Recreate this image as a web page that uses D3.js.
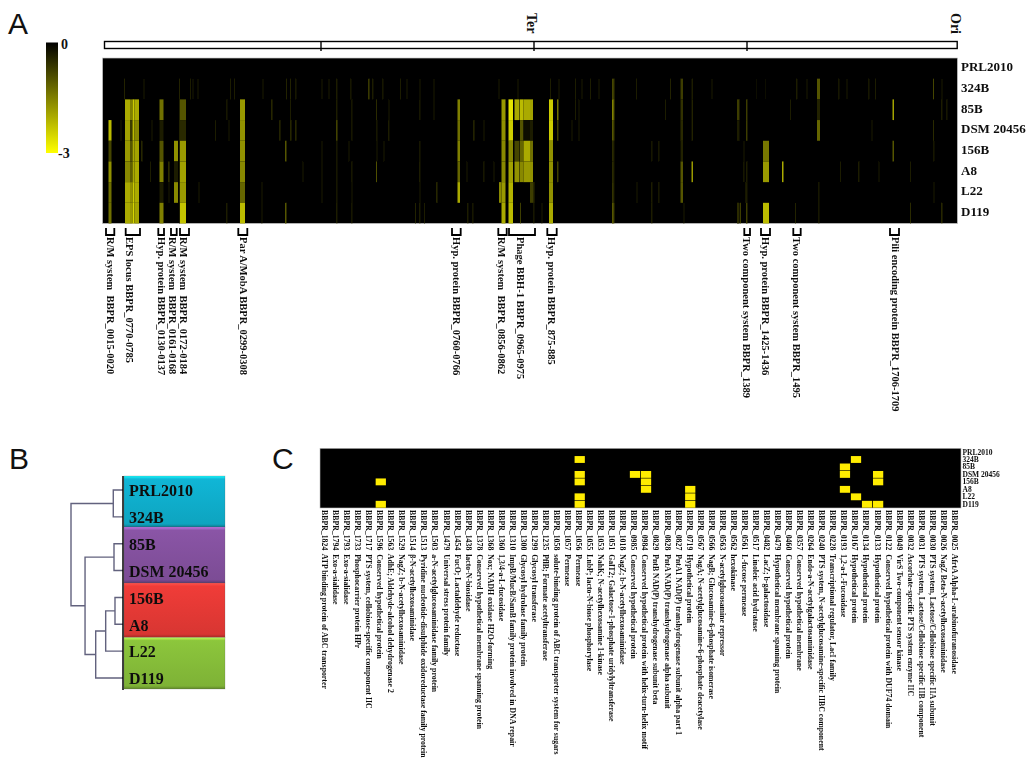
<!DOCTYPE HTML>
<html>
  <head>
    <meta charset="utf-8">
    <style>
     * { margin:0;padding:0 }
     body, html { width:1028px; height:758px; overflow:hidden; background-color:#fff; }
     svg { display:block; }
     text { font-family:"Liberation Serif", serif; white-space:pre; fill:#111; }
     .letter { font-family:"Liberation Sans", sans-serif; font-size:30px; }
     .bold { font-weight:bold; }
    </style>
    <script src="https://cdn.jsdelivr.net/npm/d3@7"></script>
  </head>
  <body>
    <script type="text/javascript">
    var width = 1028, height = 758;

    var strains = ["PRL2010", "324B", "85B", "DSM 20456", "156B", "A8", "L22", "D119"];

    // panel A, columns that show a clear signal: start bin, span in bins, log ratio per strain
    var strongTracks = [
      [6, 3, [0,0,0,-2.2,-0.8,-1.7,-1.3,-1.3]],
      [22.5, 5, [0,0,-2,-1.9,-1.8,-1.6,-2,-2]],
      [27.5, 2.5, [0,0,-1.5,-0.7,-1,-1.1,-1.7,-1.8]],
      [30, 2, [0,0,-2.4,-2.2,-2,-2,-2.4,-2.5]],
      [32, 4.5, [0,0,-2,-1.6,-1.9,-2,-2,-1.9]],
      [57, 4, [0,0,-1.3,-0.3,-1,-1.5,-0.3,-1.5]],
      [71.5, 4, [0,0,0,0,-1.7,-0.3,-1.6,0]],
      [77.5, 6, [0,0,-1,-0.5,-1.8,-1.9,-1.8,-2.3]],
      [137.5, 5, [0,0,-1.8,-1.7,-1.7,-1.6,-1.2,-2.2]],
      [182.5, 1.5, [0,0,0,0,-1,0,0,-1]],
      [355, 2.5, [0,0,-1.5,-1.3,-1.5,-1.2,-2,0]],
      [399, 4, [0,0,-1.8,-1.7,-1.6,-1.6,-1.8,-2]],
      [396.5, 2.5, [0,0,0,0,0,0,-1.6,0]],
      [406, 4.5, [0,0,-2.7,-2.4,-1.6,-1.9,-2.1,-2.2]],
      [412, 5, [0,0,-2,0,-0.8,-1.7,0,0]],
      [417.5, 3.5, [0,0,-2.2,-1,-1.2,-1.6,0,0]],
      [421, 6.5, [0,0,-2,-0.2,-2,-1.8,0,0]],
      [427.5, 3, [0,0,-1.9,-0.3,-1.3,-1.7,-0.7,0]],
      [446.5, 4, [0,0,-2.4,-2.4,-1.7,-1.7,-1.7,-2]],
      [454.5, 1.5, [0,0,-1.3,-0.7,0,-0.7,0,0]],
      [509.5, 1.5, [0,-0.8,-1.5,-1,-0.5,-0.5,-0.6,-1]],
      [578, 2.5, [0,-0.7,-0.6,-0.5,-0.4,-1,-1,0]],
      [589, 1.5, [0,-0.3,-0.4,-0.4,0,-1.8,0,0]],
      [634.5, 2.5, [0,0,-0.7,-0.3,0,0,0,-0.5]],
      [643.5, 1.5, [0,0,-0.7,-0.7,0,-0.3,-0.3,-0.7]],
      [660.5, 6, [0,0,0,0,-1.4,-1.8,0,-2.2]],
      [679.5, 1.5, [0,0,0,0,0,-2,0,0]],
      [714.5, 3, [0,-1,-0.4,-1.2,0,0,0,0]],
      [790, 1.5, [0,0,-1.9,0,-1,0,0,0]],
      [830.5, 1, [0,-0.8,0,-0.5,0,0,0,0]],
      [76.5, 0.8, [0,-0.5,-0.5,-0.5,-0.5,-0.5,-0.5,-0.4]]
    ];

    // thin faint genes per strain: bin, log ratio
    var faint324B = [[21.5,-.4],[41,-.3],[87.5,-.3],[90,-.3],[95,-.3],[127.5,-.3],[131.5,-.3],[160,-.3],[183.5,-.4],[187.5,-.4],[193,-.4],[219,-.3],[226,-.3],[234,-.5],[248,-.4],[266,-1],[270,-.5],[280,-.4],[297.5,-.3],[304,-.3],[317,-.3],[331,-.3],[396,-.3],[415,-.3],[447.5,-.3],[456,-.3],[472.5,-.3],[479,-.3],[487.5,-.3],[496,-.3],[511,-.9],[533.5,-.3],[567.5,-.4],[609,-.3],[654,-.2],[662.5,-.2],[694,-.5],[704,-.3],[736,-.4],[744,-.3],[766,-.4],[772.5,-.3],[839,-.3]];
    var faint85B = [[124,-.4],[169,-.7],[187.5,-.3],[234,-.5],[249,-.4],[273.5,-.5],[286,-.3],[317,-.4],[331,-.3],[472.5,-.3],[476,-.3],[511,-1.2],[562.5,-.3],[687.5,-.3],[839,-.5],[844,-.4]];
    var faintDSM = [[18,-.3],[49,-.3],[112.5,-.3],[126,-.3],[177,-.6],[188,-.7],[193,-.7],[234,-1.2],[249,-.4],[274,-.4],[286,-.5],[371,-.6],[381,-.3],[469,-.3],[476,-.3],[511,-.8],[769,-.3]];
    var faint156B = [[39,-.7],[219,-.3],[234,-.4],[246,-.3],[274,-.3],[281,-.3],[317,-.4],[511,-.5],[549,-.4],[556,-.4],[641,-.3],[831,-.4]];
    var faintA8 = [[47.5,-.3],[66,-.8],[200,-.3],[219,-.3],[234,-.4],[249,-.4],[273.5,-.9],[317,-.5],[364,-.3],[381,-.4],[391,-.3],[511,-.4],[641,-.4],[737.5,-.3],[756,-.5],[776,-.3],[807.5,-.3]];
    var faintL22 = [[66,-.3],[96,-.3],[159,-.3],[219,-.3],[234,-.4],[249,-.3],[317,-.3],[334,-.7],[431,-.7],[511,-.5],[534,-.3],[549,-.5],[556,-.4],[643,-.4],[716,-.4],[831,-.3]];
    var faintD119 = [[124,-.5],[159,-.3],[234,-.5],[249,-.4],[312.5,-.4],[317,-.5],[321.5,-.3],[365,-.5],[370,-.4],[417.5,-.7],[431,-.4],[439,-.3],[511,-.9],[549,-.5],[581,-.3],[637.5,-.7],[692.5,-.4],[716,-.4],[807.5,-.5],[839,-.7]];
    var faintByStrain = [[], faint324B, faint85B, faintDSM, faint156B, faintA8, faintL22, faintD119];

    var chromosomeTicks = [218.5, 431.5, 644.5];

    // regions under panel A: name, first bin, last bin, bin of the label
    var regionNames = ["R/M system  BBPR_0015-0020", "EPS locus BBPR_0770-0785", "Hyp. protein BBPR_0130-0137", "R/M system  BBPR_0161-0168", "R/M system  BBPR_0172-0184", "Par A/MobA BBPR_0299-0308", "Hyp. protein BBPR_0760-0766", "R/M system  BBPR_0856-0862", "Phage BBH-1 BBPR_0965-0975", "Hyp. protein BBPR_875-885", "Two component system BBPR_1389", "Hyp. protein BBPR_1425-1436", "Two component system BBPR_1495", "Pili encoding protein BBPR_1706-1709"];
    var regionStart = [3.5, 23.2, 55.8, 68.5, 77.5, 135.8, 349.5, 395.8, 406.5, 444.8, 641.8, 658.5, 690.8, 787.5];
    var regionEnd = [11.8, 37.5, 61.5, 74.2, 86.5, 144.8, 358.2, 404.2, 432.5, 454.2, 647.5, 667.5, 698.2, 796.5];
    var regionLabelBin = [7.5, 26.5, 59.2, 70.2, 80.8, 140.8, 354.2, 399.2, 417.5, 449.2, 644.2, 662.5, 694.2, 792.5];

    // panel B: merges as [left, right, height], nodes numbered after the strains
    var merges = [[0, 1, 0.187], [2, 3, 0.173], [4, 5, 0.154], [10, 6, 0.333], [11, 7, 0.525], [9, 12, 0.73], [8, 13, 1]];
    var clusterColors = ["#10b6d6", "#8a55a6", "#f03c38", "#8cc63c"];

    // panel C
    var geneLabels = [
      "BBPR_1824  ATP binding protein of ABC transporter", "BBPR_1794  Exo-a-sialidase", "BBPR_1793  Exo-a-sialidase", "BBPR_1733  Phosphocarrier protein HPr",
      "BBPR_1717  PTS system, cellobiose-specific component IIC", "BBPR_1596  Conserved hypothetical protein", "BBPR_1563  AdhE; Aldehyde-alcohol dehydrogenase 2", "BBPR_1529  NagZ; b-N-acetylhexosaminidase",
      "BBPR_1514  β-N-acetylhexosaminidase", "BBPR_1513  Pyridine nucleotide-disulphide oxidoreductase family protein", "BBPR_1503  a-N-acetylglucosaminidase family protein", "BBPR_1479  Universal stress protein family",
      "BBPR_1454  FucO; Lactaldehyde reductase", "BBPR_1438  lacto-N-biosidase", "BBPR_1378  Conserved hypothetical membrane spanning protein", "BBPR_1368  Nox; NADH oxidase H2O-forming",
      "BBPR_1360  1,3/4-a-L-fucosidase", "BBPR_1310  ImpB/MucB/SamB family protein involved in DNA repair", "BBPR_1300  Glycosyl hydrolase family protein", "BBPR_1299  Glycosyl transferase",
      "BBPR_1235  PflB; Formate acetyltransferase", "BBPR_1058  solute-binding protein of ABC transporter system for sugars", "BBPR_1057  Permease", "BBPR_1056  Permease",
      "BBPR_1055  LnbP; lacto-N-biose phosphorylase", "BBPR_1053  NahK; N-acetylhexosamine 1-kinase", "BBPR_1051  GalT2; Galactose-1-phosphate uridylyltransferase", "BBPR_1018  NagZ; b-N-acetylhexosaminidase",
      "BBPR_0985  Conserved hypothetical protein", "BBPR_0984  Conserved hypothetical protein with helix-turn-helix motif", "BBPR_0829  PntB NAD(P) transhydrogenase subunit beta", "BBPR_0828  PntA NAD(P) transhydrogenase alpha subunit",
      "BBPR_0827  PntA1 NAD(P) transhydrogenase subunit alpha part 1", "BBPR_0719  Hypothetical protein", "BBPR_0567  NagA; N-acetylglucosamine-6-phosphate deacetylase", "BBPR_0566  NagB; Glucosamine-6-phosphate isomerase",
      "BBPR_0563  N-acetylglucosamine repressor", "BBPR_0562  hexokinase", "BBPR_0561  L-fucose permease", "BBPR_0517  Linoleic acid hydratase",
      "BBPR_0482  LacZ; b-galactosidase", "BBPR_0479  Hypothetical membrane spanning protein", "BBPR_0460  Conserved hypothetical protein", "BBPR_0357  Conserved hypothetical membrane",
      "BBPR_0264  Endo-a-N-acetylgalactosaminidase", "BBPR_0240  PTS system, N-acetylglucosamine-specific IIBC component", "BBPR_0228  Transcriptional regulator, LacI family", "BBPR_0193  1,2-a-L-Fucosidase",
      "BBPR_0167  Hypothetical protein", "BBPR_0134  Hypothetical protein", "BBPR_0133  Hypothetical protein", "BBPR_0122  Conserved hypothetical protein with DUF74 domain",
      "BBPR_0049  VirS Two-component sensor kinase", "BBPR_0032  Ascorbate-specific PTS system enzyme IIC", "BBPR_0031  PTS system, Lactose/Cellobiose specific IIB component", "BBPR_0030  PTS system, Lactose/Cellobiose specific IIA subunit",
      "BBPR_0026  NagZ Beta-N-acetylhexosaminidase", "BBPR_0025  AfrtA Alpha-L-arabinofuranosidase"
    ];
    // yellow cells as [gene column, strain row]
    var markedCells = [[5,4],[5,7],[23,1],[23,3],[23,4],[23,6],[23,7],[28,3],[29,3],[29,4],[29,5],[33,5],[33,6],[33,7],[47,2],[47,3],[47,5],[48,1],[48,6],[49,7],[50,3],[50,4],[50,7]];

    var svg = d3.select("body").append("svg")
        .attr("width", width)
        .attr("height", height);

    var defs = svg.append("defs");
    defs.append("filter").attr("id", "soft")
        .append("feGaussianBlur").attr("stdDeviation", 0.6);
    defs.append("filter").attr("id", "softText")
        .append("feGaussianBlur").attr("stdDeviation", 0.32);

    var color = d3.scaleLinear().domain([0, -3]).range(["#000000", "#ffff00"]);

    /* ---------- panel A ---------- */
    var xA = d3.scaleLinear().domain([0, 855]).range([102.5, 957.5]);
    var yA = d3.scaleBand().domain(strains).range([58, 223.5]);

    svg.append("text").attr("class", "letter").attr("x", 8).attr("y", 34).text("A");

    // colour key
    var keyGrad = defs.append("linearGradient").attr("id", "key")
        .attr("x1", 0).attr("y1", 0).attr("x2", 0).attr("y2", 1);
    d3.range(0, 3.01, 0.5).forEach(function(v) {
      keyGrad.append("stop").attr("offset", v / 3).attr("stop-color", color(-v));
    });
    var yKey = d3.scaleLinear().domain([0, -3]).range([42.5, 153]);
    svg.append("rect").attr("x", 46).attr("y", yKey(0)).attr("width", 12)
        .attr("height", yKey(-3) - yKey(0)).attr("fill", "url(#key)");
    svg.append("text").attr("class", "bold").attr("x", 61).attr("y", yKey(0) + 6)
        .attr("font-size", 14).text("0");
    svg.append("text").attr("class", "bold").attr("x", 58).attr("y", yKey(-3) + 5)
        .attr("font-size", 14).text("-3");

    // chromosome bar
    svg.append("rect").attr("x", xA(2)).attr("y", 41.5).attr("width", xA(854.7) - xA(2)).attr("height", 7)
        .attr("fill", "#fff").attr("stroke", "#000").attr("stroke-width", 1.4);
    svg.selectAll(".chromTick").data(chromosomeTicks).enter().append("line")
        .attr("x1", xA).attr("x2", xA).attr("y1", 41).attr("y2", 51)
        .attr("stroke", "#000").attr("stroke-width", 1.4);
    [["Ter", 429], ["Ori", 853.5]].forEach(function(d) {
      svg.append("text").attr("class", "bold").attr("font-size", 14)
          .attr("transform", "translate(" + xA(d[1]) + ",13)rotate(90)")
          .attr("dy", "0.33em").text(d[0]);
    });

    var heatA = svg.append("g").attr("filter", "url(#soft)");
    heatA.append("rect").attr("x", xA(0)).attr("y", yA.range()[0])
        .attr("width", xA(855) - xA(0)).attr("height", yA.range()[1] - yA.range()[0])
        .attr("fill", "#000").attr("stroke", "#c8c8c8").attr("stroke-width", 0.7);

    strains.forEach(function(strain, r) {
      var row = heatA.append("g");
      row.selectAll(".faint").data(faintByStrain[r]).enter().append("rect")
          .attr("x", function(d) { return xA(d[0]); })
          .attr("y", yA(strain))
          .attr("width", xA(0.8) - xA(0))
          .attr("height", yA.bandwidth())
          .attr("fill", function(d) { return color(d[1] * 1.3); });
      row.selectAll(".track").data(strongTracks.filter(function(t) { return t[2][r] < 0; })).enter().append("rect")
          .attr("x", function(d) { return xA(d[0]); })
          .attr("y", yA(strain))
          .attr("width", function(d) { return xA(d[1]) - xA(0); })
          .attr("height", yA.bandwidth())
          .attr("fill", function(d) { return color(d[2][r]); });
    });

    var rowLabelsA = svg.append("g").attr("filter", "url(#softText)");
    rowLabelsA.selectAll("text").data(strains).enter().append("text")
        .attr("class", "bold").attr("font-size", 13)
        .attr("x", 961).attr("y", function(d) { return yA(d) + yA.bandwidth() / 2 - 1.5; })
        .attr("dy", "0.33em").text(function(d) { return d; });

    // region brackets and their labels
    var regions = regionNames.map(function(name, i) {
      return { name: name, start: regionStart[i], end: regionEnd[i], labelBin: regionLabelBin[i] };
    });
    svg.selectAll(".bracket").data(regions).enter().append("path")
        .attr("fill", "none").attr("stroke", "#000").attr("stroke-width", 1.8)
        .attr("d", function(d) { return "M" + xA(d.start) + ",228V235H" + xA(d.end) + "V228"; });
    var regionText = svg.append("g").attr("filter", "url(#softText)");
    regionText.selectAll("text").data(regions).enter().append("text")
        .attr("font-size", 10.5).attr("font-weight", "bold")
        .attr("transform", function(d) { return "translate(" + xA(d.labelBin) + ",237)rotate(90)"; })
        .attr("dy", "0.33em").text(function(d) { return d.name; });

    /* ---------- panel B ---------- */
    svg.append("text").attr("class", "letter").attr("x", 9).attr("y", 469).text("B");

    var yLeaf = d3.scalePoint().domain(strains).range([490, 678]);
    var xHeight = d3.scaleLinear().domain([0, 1]).range([123, 71]);
    var clusterY = d3.scaleLinear().domain([0, 1, 2, 3, 4]).range([476, 527, 583, 637.5, 689]);

    clusterColors.forEach(function(c, i) {
      var g = defs.append("linearGradient").attr("id", "cluster" + i)
          .attr("x1", 0).attr("y1", 0).attr("x2", 0).attr("y2", 1);
      var base = d3.color(c);
      g.append("stop").attr("offset", 0).attr("stop-color", base.brighter(0.9));
      g.append("stop").attr("offset", 0.06).attr("stop-color", base);
      g.append("stop").attr("offset", 0.94).attr("stop-color", base.darker(0.3));
      g.append("stop").attr("offset", 1).attr("stop-color", base.darker(1.1));
    });
    svg.selectAll(".cluster").data(clusterColors).enter().append("rect")
        .attr("x", 124).attr("width", 101)
        .attr("y", function(d, i) { return clusterY(i); })
        .attr("height", function(d, i) { return clusterY(i + 1) - clusterY(i); })
        .attr("fill", function(d, i) { return "url(#cluster" + i + ")"; })
        .attr("stroke", "#555").attr("stroke-opacity", 0.35).attr("stroke-width", 0.6);

    // walk the merges to get the dendrogram
    var nodes = strains.map(function(s) { return { y: yLeaf(s), h: 0 }; });
    var dendro = svg.append("g").attr("fill", "none").attr("stroke", "#62627e").attr("stroke-width", 1.4);
    merges.forEach(function(m) {
      var a = nodes[m[0]], b = nodes[m[1]], x = xHeight(m[2]);
      dendro.append("path").attr("d",
        "M" + xHeight(a.h) + "," + a.y + "H" + x + "V" + b.y + "H" + xHeight(b.h));
      nodes.push({ y: (a.y + b.y) / 2, h: m[2] });
    });
    svg.append("line").attr("x1", xHeight(0)).attr("x2", xHeight(0)).attr("y1", clusterY(0)).attr("y2", clusterY(4) + 1)
        .attr("stroke", "#000").attr("stroke-width", 1.5);

    var leafText = svg.append("g").attr("filter", "url(#softText)");
    leafText.selectAll("text").data(strains).enter().append("text")
        .attr("class", "bold").attr("font-size", 16)
        .attr("x", 129).attr("y", function(d) { return yLeaf(d) + 1; })
        .attr("dy", "0.33em").text(function(d) { return d; });

    /* ---------- panel C ---------- */
    svg.append("text").attr("class", "letter").attr("x", 272).attr("y", 469).text("C");

    var xC = d3.scaleBand().domain(d3.range(geneLabels.length)).range([320, 961]);
    var yC = d3.scaleBand().domain(strains).range([448.3, 508]);

    svg.append("rect").attr("x", 320).attr("y", 448.3).attr("width", 641).attr("height", 59.7)
        .attr("fill", "#000").attr("stroke", "#bbb").attr("stroke-width", 0.6);
    var cellsC = svg.append("g").attr("filter", "url(#softText)");
    cellsC.selectAll("rect").data(markedCells).enter().append("rect")
        .attr("x", function(d) { return xC(d[0]) + 0.4; })
        .attr("y", function(d) { return yC(strains[d[1]]) + 0.3; })
        .attr("width", xC.bandwidth() - 0.8)
        .attr("height", yC.bandwidth() - 0.6)
        .attr("fill", "#ffec00");

    var textC = svg.append("g").attr("filter", "url(#softText)");
    textC.selectAll(".rowC").data(strains).enter().append("text")
        .attr("class", "bold rowC").attr("font-size", 7.5)
        .attr("x", 962.5).attr("y", function(d) { return yC(d) + yC.bandwidth() / 2; })
        .attr("dy", "0.33em").text(function(d) { return d; });
    textC.selectAll(".geneC").data(geneLabels).enter().append("text")
        .attr("class", "geneC").attr("font-size", 7.8).attr("font-weight", "bold")
        .attr("transform", function(d, i) { return "translate(" + (xC(i) + xC.bandwidth() / 2 - 1) + ",510)rotate(90)"; })
        .attr("dy", "0.33em").text(function(d) { return d; });
    </script>
  </body>
</html>
